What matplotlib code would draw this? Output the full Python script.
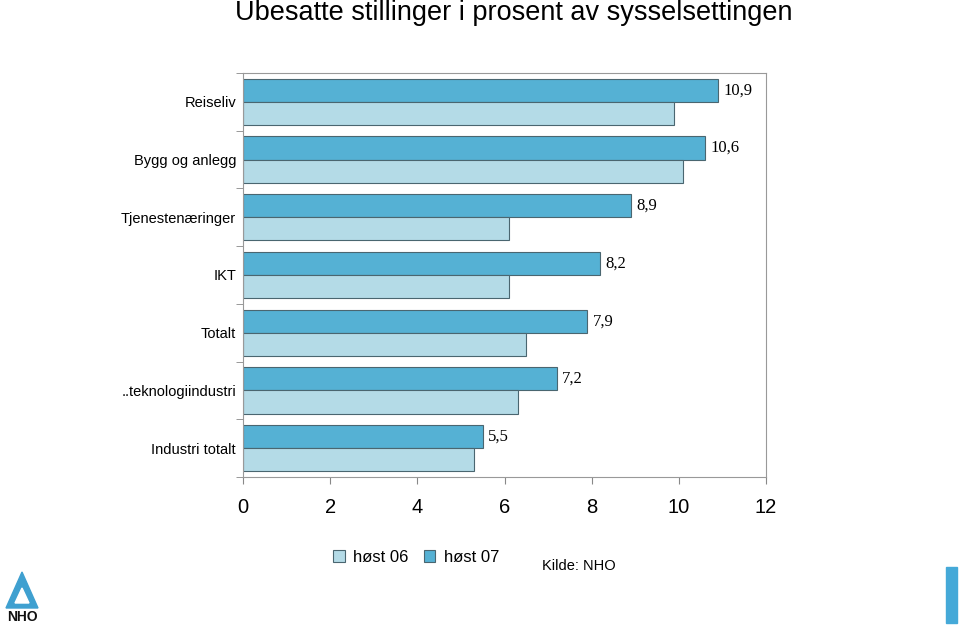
import matplotlib
matplotlib.use("Agg")
import matplotlib.pyplot as plt
import numpy as np
from matplotlib.patches import Rectangle, Polygon

categories = ["Reiseliv", "Bygg og anlegg", "Tjenestenæringer", "IKT", "Totalt",
              "..teknologiindustri", "Industri totalt"]
host06 = [9.9, 10.1, 6.1, 6.1, 6.5, 6.3, 5.3]
host07 = [10.9, 10.6, 8.9, 8.2, 7.9, 7.2, 5.5]
value_labels = ["10,9", "10,6", "8,9", "8,2", "7,9", "7,2", "5,5"]
xticks = [0, 2, 4, 6, 8, 10, 12]

c06 = "#B4DBE7"
c07 = "#55B1D4"
edge = "#4a6670"

fig = plt.figure(figsize=(9.59, 6.29), dpi=100)
ax = fig.add_axes([243/959, 1-477/629, (766-243)/959, (477-73)/629])

y = np.arange(len(categories))
h = 0.4
ax.barh(y - h/2, host07, height=h, color=c07, edgecolor=edge, linewidth=0.8, label="høst 07")
ax.barh(y + h/2, host06, height=h, color=c06, edgecolor=edge, linewidth=0.8, label="høst 06")

for yi, v, lab in zip(y, host07, value_labels):
    ax.text(v + 0.12, yi - h/2, lab, va="center", ha="left",
            fontfamily="Liberation Serif", fontsize=12)

ax.set_xlim(0, 12)
ax.set_ylim(len(categories) - 0.5, -0.5)
ax.set_xticks(xticks)
ax.set_xticklabels([str(t) for t in xticks], fontfamily="Liberation Sans", fontsize=14.5)
ax.set_yticks(y)
ax.set_yticklabels(categories, fontfamily="Liberation Sans", fontsize=10.5)
ax.tick_params(axis="y", length=0, pad=5)
ax.set_yticks(np.arange(-0.5, len(categories), 1), minor=True)
ax.tick_params(axis="y", which="minor", length=5, color="#888888", direction="out")
ax.tick_params(axis="x", length=5, color="#888888", direction="out", pad=10)
for s in ax.spines.values():
    s.set_color("#999999")
    s.set_linewidth(0.8)

fig.text(514/959, 1-13/629, "Ubesatte stillinger i prosent av sysselsettingen",
         ha="center", va="center", fontfamily="Liberation Sans", fontsize=19.5)

handles, labels = ax.get_legend_handles_labels()
leg = fig.legend(handles[::-1], labels[::-1], loc="center", bbox_to_anchor=(416/959, 1-557/629),
                 ncol=2, frameon=False, prop={"family": "Liberation Sans", "size": 12},
                 handlelength=0.7, handleheight=0.7, handletextpad=0.5, columnspacing=0.9)

fig.text(542/959, 1-566/629, "Kilde: NHO", ha="left", va="center",
         fontfamily="Liberation Sans", fontsize=10.5)

# right blue bar
fig.patches.append(Rectangle((946/959, 1-623/629), 11/959, 56/629, transform=fig.transFigure,
                             color="#45A9D8"))
# NHO logo (simple)
fig.patches.append(Polygon([(6/959, 1-608/629), (38/959, 1-608/629), (22/959, 1-572/629)],
                           closed=True, transform=fig.transFigure, color="#3FA0D0"))
fig.patches.append(Polygon([(15/959, 1-603/629), (29/959, 1-603/629), (22/959, 1-588/629)],
                           closed=True, transform=fig.transFigure, color="#ffffff"))
fig.text(22/959, 1-617/629, "NHO", ha="center", va="center", fontfamily="Liberation Sans",
         fontweight="bold", fontsize=10, color="#111111")

fig.savefig("out.png", dpi=100)
